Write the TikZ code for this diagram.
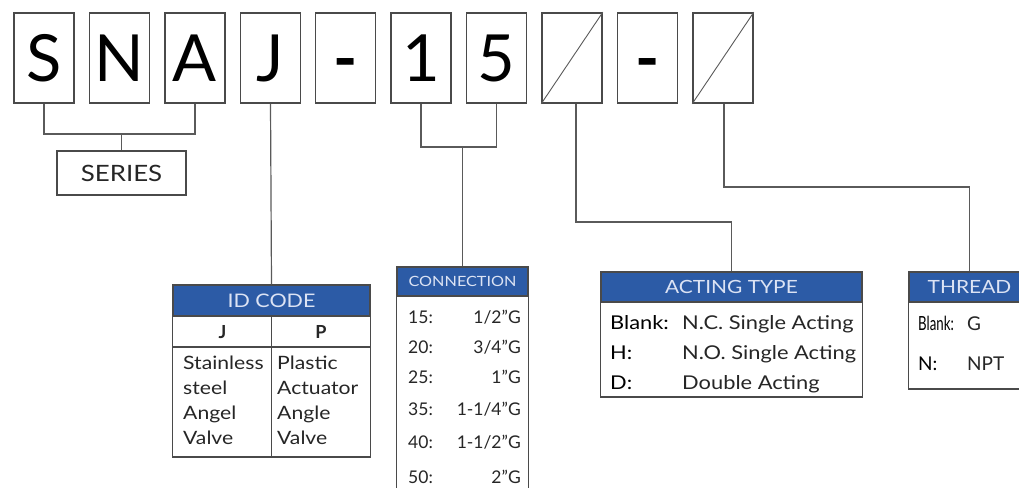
\documentclass[tikz,border=0pt]{standalone}
\usepackage{fontspec}
\setmainfont{Lato}
\newfontfamily\widefont[FakeStretch=1.15]{Lato}
\newfontfamily\narrowfont[FakeStretch=0.68]{Lato}
\definecolor{boxgray}{HTML}{4A4A4A}
\definecolor{linegray}{HTML}{5A5A5A}
\definecolor{hdrblue}{HTML}{2C5BA6}
\definecolor{hdrtext}{HTML}{DCE3F4}
\definecolor{txtdark}{HTML}{262626}
\begin{document}
\begin{tikzpicture}[x=1pt, y=-1pt,
    letterbox/.style={draw=boxgray, line width=1.6pt, minimum width=60pt, minimum height=90pt,
      inner sep=0pt, text height=23.5pt, text depth=23.5pt, text=black, font=\fontsize{65}{65}\selectfont},
    conn/.style={draw=linegray, line width=1.2pt},
    frame/.style={draw=boxgray, line width=1.3pt},
    hdr/.style={fill=hdrblue, draw=boxgray, line width=1.3pt, text=hdrtext, inner sep=0pt,
      font=\widefont\fontsize{18.2}{18.2}\selectfont},
    cell/.style={anchor=base west, inner sep=0pt, text=txtdark, font=\widefont\fontsize{18.4}{18.4}\selectfont},
    acell/.style={cell, font=\widefont\fontsize{19}{19}\selectfont},
    ccell/.style={cell, font=\fontsize{17.5}{17.5}\selectfont},
    rcell/.style={ccell, anchor=base east},
    tcell/.style={cell, font=\fontsize{19}{19}\selectfont}]

    % --- 画布范围 ---
    \clip (0,0) rectangle (1019,487);
    \fill[white] (0,0) rectangle (1019,487);

    % --- 顶部字母框 ---
    \def\boxY{58}       % 字母框中心高度
    \def\drop{-23.5pt}  % 基线下移量
    \node[letterbox] (bS)      at (44,\boxY)    {\raisebox{\drop}{S}};
    \node[letterbox] (bN)      at (119.5,\boxY) {\raisebox{\drop}{N}};
    \node[letterbox] (bA)      at (195,\boxY)   {\raisebox{\drop}{A}};
    \node[letterbox] (bJ)      at (270.5,\boxY) {\raisebox{\drop}{J}};
    \node[letterbox] (bDashA)  at (345.5,\boxY) {\raisebox{\drop}{\bfseries -}};
    \node[letterbox] (bOne)    at (421,\boxY)   {\raisebox{\drop}{1}};
    \node[letterbox] (bFive)   at (496.5,\boxY) {\raisebox{\drop}{5}};
    \node[letterbox] (bActing) at (572,\boxY)   {};
    \node[letterbox] (bDashB)  at (647.5,\boxY) {\raisebox{\drop}{\bfseries -}};
    \node[letterbox] (bThread) at (723,\boxY)   {};
    % 空位的斜线
    \draw[linegray, line width=0.9pt] (bActing.south west) -- (bActing.north east);
    \draw[linegray, line width=0.9pt] (bThread.south west) -- (bThread.north east);

    % --- SERIES ---
    \node[frame, minimum width=129pt, minimum height=44pt, inner sep=0pt,
      font=\widefont\fontsize{22.5}{22.5}\selectfont, text=txtdark] (series) at (121.5,173) {SERIES};
    \coordinate (sj) at (series.north |- 0,134);
    \draw[conn] (bS.south) |- (sj) -| (bA.south);
    \draw[conn] (sj) -- (series.north);

    % --- ID CODE 表 ---
    \node[hdr, minimum width=197pt, minimum height=31pt, font=\widefont\fontsize{18.7}{18.7}\selectfont] (idHdr) at (271.5,300.5) {ID CODE};
    \draw[frame] (idHdr.south west) rectangle (idHdr.south east |- 0,457);
    \draw[frame] (idHdr.south west |- 0,347) -- (idHdr.south east |- 0,347);
    \draw[frame] (idHdr.south) -- (idHdr.south |- 0,457);
    \node[cell, anchor=base, font=\fontsize{18}{18}\selectfont\bfseries] (idJ) at (222.5,338) {J};
    \node[cell, anchor=base, font=\fontsize{18}{18}\selectfont\bfseries] (idP) at (321,338) {P};
    \node[cell] (idJa) at (183,369) {Stainless};
    \node[cell] (idJb) at (183,394) {steel};
    \node[cell] (idJc) at (183,419) {Angel};
    \node[cell] (idJd) at (183,444) {Valve};
    \node[cell] (idPa) at (277,369) {Plastic};
    \node[cell] (idPb) at (277,394) {Actuator};
    \node[cell] (idPc) at (277,419) {Angle};
    \node[cell] (idPd) at (277,444) {Valve};
    \draw[conn] (bJ.south) -- (idHdr.north);

    % --- CONNECTION 表 ---
    \node[hdr, minimum width=131pt, minimum height=29pt, font=\widefont\fontsize{14.1}{14.1}\selectfont] (connHdr) at (462.5,281.5) {CONNECTION};
    \draw[frame] (connHdr.south west) -- (connHdr.south west |- 0,500);
    \draw[frame] (connHdr.south east) -- (connHdr.south east |- 0,500);
    \node[ccell] (c15) at (408,323) {15:}; \node[rcell] (v15) at (521,323) {1/2"G};
    \node[ccell] (c20) at (408,353) {20:}; \node[rcell] (v20) at (521,353) {3/4"G};
    \node[ccell] (c25) at (408,383) {25:}; \node[rcell] (v25) at (521,383) {1"G};
    \node[ccell] (c35) at (408,415) {35:}; \node[rcell] (v35) at (521,415) {1-1/4"G};
    \node[ccell] (c40) at (408,448) {40:}; \node[rcell] (v40) at (521,448) {1-1/2"G};
    \node[ccell] (c50) at (408,483) {50:}; \node[rcell] (v50) at (521,483) {2"G};
    \coordinate (cj) at (connHdr.north |- 0,147);
    \draw[conn] (bOne.south) |- (cj) -| (bFive.south);
    \draw[conn] (cj) -- (connHdr.north);

    % --- ACTING TYPE 表 ---
    \node[hdr, minimum width=261pt, minimum height=30pt] (actHdr) at (731.5,287) {ACTING TYPE};
    \draw[frame] (actHdr.south west) rectangle (actHdr.south east |- 0,397);
    \node[acell, text=black] (aBlank) at (610,329) {Blank:}; \node[acell] (aNC) at (682,329) {N.C. Single Acting};
    \node[acell, text=black] (aH)     at (610,359) {H:};     \node[acell] (aNO) at (682,359) {N.O. Single Acting};
    \node[acell, text=black] (aD)     at (610,389) {D:};     \node[acell] (aDA) at (682,389) {Double Acting};
    \coordinate (aj) at ([xshift=4pt]bActing.south |- 0,222);
    \draw[conn] ([xshift=4pt]bActing.south) -- (aj) -| (actHdr.north);

    % --- THREAD 表 ---
    \node[hdr, minimum width=121pt, minimum height=30pt] (thrHdr) at (969.5,287) {THREAD};
    \draw[frame] (thrHdr.south west) rectangle (thrHdr.south east |- 0,389);
    \node[tcell, text=black, font=\narrowfont\fontsize{19.5}{19.5}\selectfont] (tBlank) at (918,330) {Blank:};
    \node[tcell] (tG)   at (967,330) {G};
    \node[tcell, text=black] (tN) at (918,370) {N:};
    \node[tcell] (tNPT) at (967,370) {NPT};
    \coordinate (tj) at ([xshift=1pt]bThread.south |- 0,187);
    \draw[conn] ([xshift=1pt]bThread.south) -- (tj) -| (thrHdr.north);

\end{tikzpicture}
\end{document}
